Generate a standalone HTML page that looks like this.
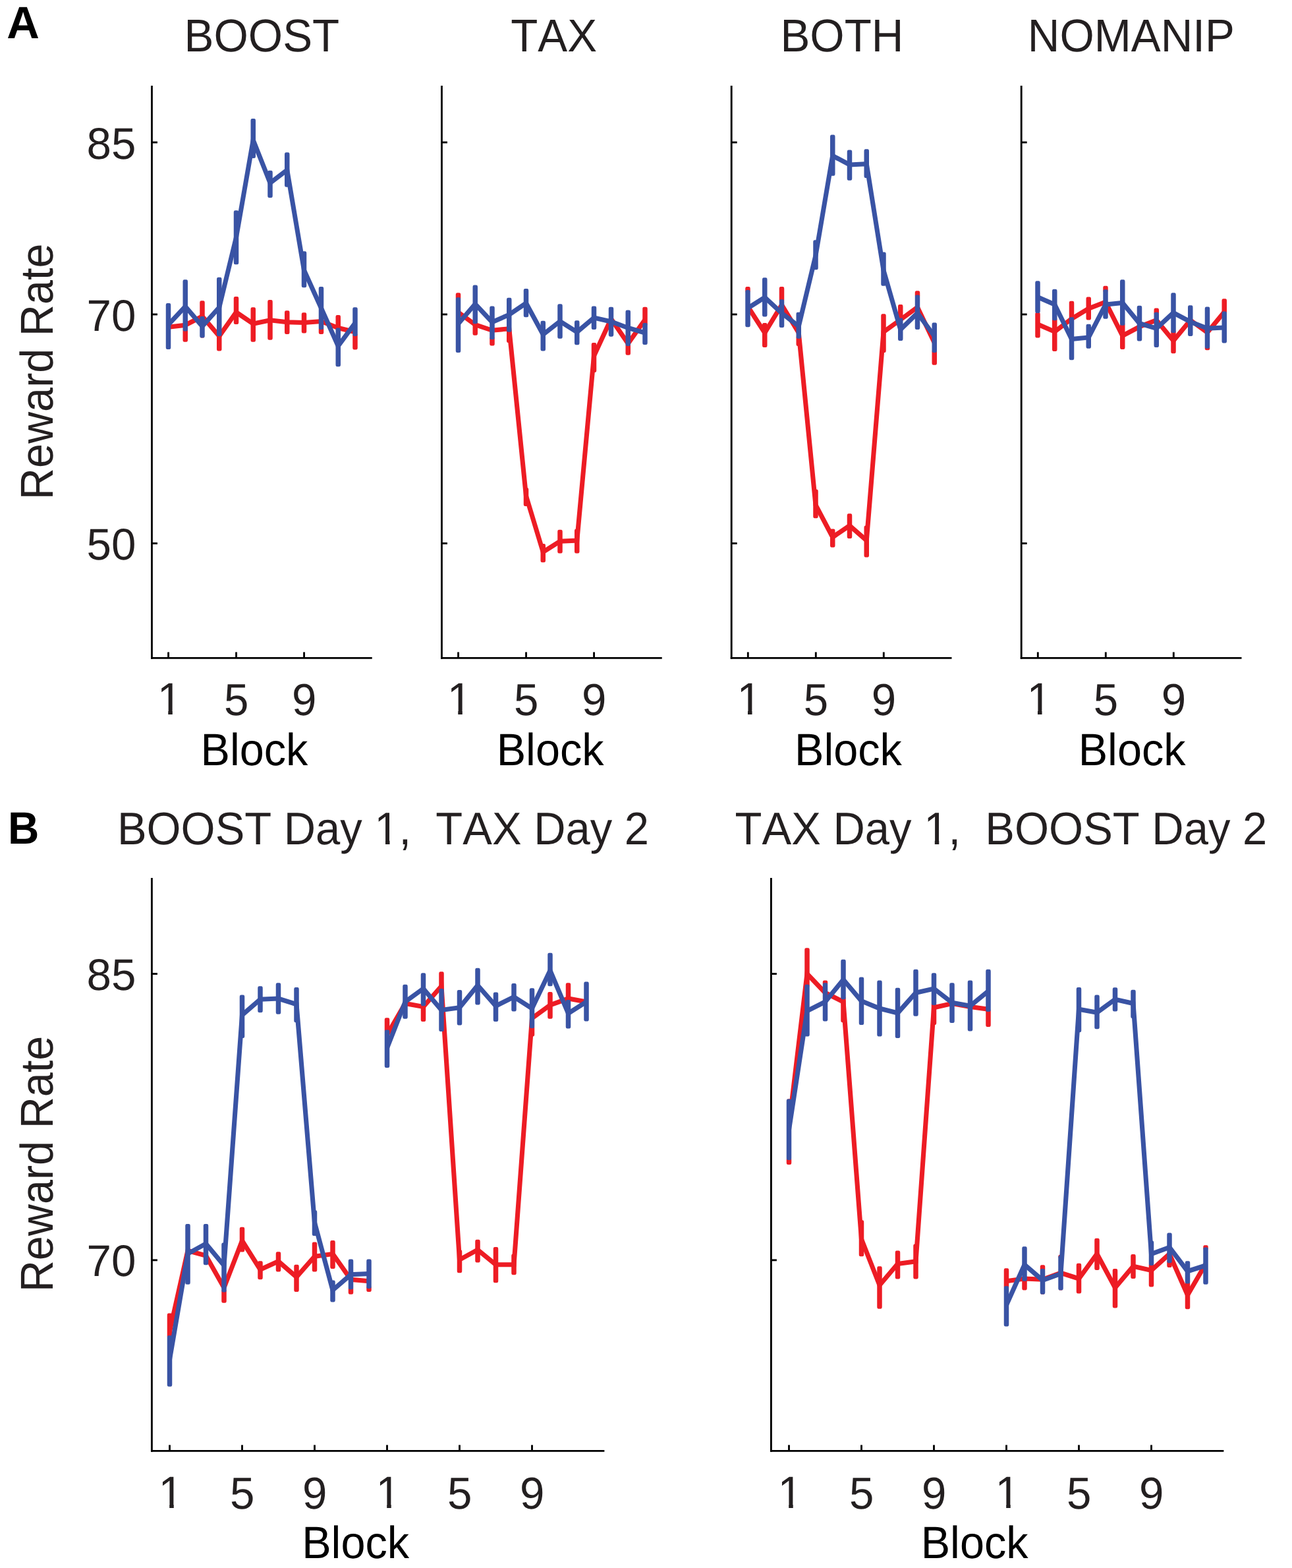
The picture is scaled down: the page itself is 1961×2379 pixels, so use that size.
<!DOCTYPE html>
<html lang="en">
<head>
<meta charset="utf-8">
<title>Reward Rate by Block</title>
<style>
html,body{margin:0;padding:0;background:#ffffff;}
body{width:1961px;height:2379px;overflow:hidden;}
svg{display:block;}
svg text{font-family:"Liberation Sans",sans-serif;font-kerning:none;white-space:pre;text-rendering:geometricPrecision;}
</style>
</head>
<body>
<svg width="1961" height="2379" viewBox="0 0 1961 2379">
<defs>
<clipPath id="c1" clipPathUnits="userSpaceOnUse"><path clip-rule="evenodd" d="M172.89 1200.75H1477.89V1320.75H172.89ZM572.50 1275.05H585.02V1282.75H572.50ZM591.51 1275.05H603.29V1282.75H591.51Z"/></clipPath>
<clipPath id="c2" clipPathUnits="userSpaceOnUse"><path clip-rule="evenodd" d="M1110.58 1200.75H2415.58V1320.75H1110.58ZM1406.26 1275.05H1418.79V1282.75H1406.26ZM1425.28 1275.05H1437.07V1282.75H1425.28Z"/></clipPath>
<clipPath id="c3" clipPathUnits="userSpaceOnUse"><path clip-rule="evenodd" d="M233.64 1014.00H288.64V1094.00H233.64ZM242.68 1078.37H255.26V1086.00H242.68ZM261.79 1078.37H273.64V1086.00H261.79Z"/></clipPath>
<clipPath id="c4" clipPathUnits="userSpaceOnUse"><path clip-rule="evenodd" d="M673.64 1014.00H728.64V1094.00H673.64ZM682.68 1078.37H695.26V1086.00H682.68ZM701.79 1078.37H713.64V1086.00H701.79Z"/></clipPath>
<clipPath id="c5" clipPathUnits="userSpaceOnUse"><path clip-rule="evenodd" d="M1113.39 1014.00H1168.39V1094.00H1113.39ZM1122.43 1078.37H1135.01V1086.00H1122.43ZM1141.54 1078.37H1153.39V1086.00H1141.54Z"/></clipPath>
<clipPath id="c6" clipPathUnits="userSpaceOnUse"><path clip-rule="evenodd" d="M1553.39 1014.00H1608.39V1094.00H1553.39ZM1562.43 1078.37H1575.01V1086.00H1562.43ZM1581.54 1078.37H1593.39V1086.00H1581.54Z"/></clipPath>
<clipPath id="c7" clipPathUnits="userSpaceOnUse"><path clip-rule="evenodd" d="M235.59 2218.00H290.59V2298.00H235.59ZM244.63 2282.37H257.21V2290.00H244.63ZM263.74 2282.37H275.59V2290.00H263.74Z"/></clipPath>
<clipPath id="c8" clipPathUnits="userSpaceOnUse"><path clip-rule="evenodd" d="M565.59 2218.00H620.59V2298.00H565.59ZM574.63 2282.37H587.21V2290.00H574.63ZM593.74 2282.37H605.59V2290.00H593.74Z"/></clipPath>
<clipPath id="c9" clipPathUnits="userSpaceOnUse"><path clip-rule="evenodd" d="M1175.59 2218.00H1230.59V2298.00H1175.59ZM1184.63 2282.37H1197.21V2290.00H1184.63ZM1203.74 2282.37H1215.59V2290.00H1203.74Z"/></clipPath>
<clipPath id="c10" clipPathUnits="userSpaceOnUse"><path clip-rule="evenodd" d="M1505.59 2218.00H1560.59V2298.00H1505.59ZM1514.63 2282.37H1527.21V2290.00H1514.63ZM1533.74 2282.37H1545.59V2290.00H1533.74Z"/></clipPath>
</defs>
<rect x="0" y="0" width="1961" height="2379" fill="#ffffff"/>
<line x1="230.45" y1="129.90" x2="230.45" y2="999.82" stroke="#000000" stroke-width="2.85" stroke-linecap="butt"/>
<line x1="229.02" y1="998.40" x2="564.75" y2="998.40" stroke="#000000" stroke-width="2.85" stroke-linecap="butt"/>
<line x1="230.45" y1="216.00" x2="238.95" y2="216.00" stroke="#000000" stroke-width="2.85" stroke-linecap="butt"/>
<line x1="230.45" y1="477.00" x2="238.95" y2="477.00" stroke="#000000" stroke-width="2.85" stroke-linecap="butt"/>
<line x1="230.45" y1="824.40" x2="238.95" y2="824.40" stroke="#000000" stroke-width="2.85" stroke-linecap="butt"/>
<line x1="255.55" y1="998.40" x2="255.55" y2="989.40" stroke="#000000" stroke-width="2.85" stroke-linecap="butt"/>
<line x1="358.55" y1="998.40" x2="358.55" y2="989.40" stroke="#000000" stroke-width="2.85" stroke-linecap="butt"/>
<line x1="461.55" y1="998.40" x2="461.55" y2="989.40" stroke="#000000" stroke-width="2.85" stroke-linecap="butt"/>
<line x1="670.45" y1="129.90" x2="670.45" y2="999.82" stroke="#000000" stroke-width="2.85" stroke-linecap="butt"/>
<line x1="669.03" y1="998.40" x2="1004.75" y2="998.40" stroke="#000000" stroke-width="2.85" stroke-linecap="butt"/>
<line x1="670.45" y1="216.00" x2="678.95" y2="216.00" stroke="#000000" stroke-width="2.85" stroke-linecap="butt"/>
<line x1="670.45" y1="477.00" x2="678.95" y2="477.00" stroke="#000000" stroke-width="2.85" stroke-linecap="butt"/>
<line x1="670.45" y1="824.40" x2="678.95" y2="824.40" stroke="#000000" stroke-width="2.85" stroke-linecap="butt"/>
<line x1="695.55" y1="998.40" x2="695.55" y2="989.40" stroke="#000000" stroke-width="2.85" stroke-linecap="butt"/>
<line x1="798.55" y1="998.40" x2="798.55" y2="989.40" stroke="#000000" stroke-width="2.85" stroke-linecap="butt"/>
<line x1="901.55" y1="998.40" x2="901.55" y2="989.40" stroke="#000000" stroke-width="2.85" stroke-linecap="butt"/>
<line x1="1110.20" y1="129.90" x2="1110.20" y2="999.82" stroke="#000000" stroke-width="2.85" stroke-linecap="butt"/>
<line x1="1108.78" y1="998.40" x2="1444.50" y2="998.40" stroke="#000000" stroke-width="2.85" stroke-linecap="butt"/>
<line x1="1110.20" y1="216.00" x2="1118.70" y2="216.00" stroke="#000000" stroke-width="2.85" stroke-linecap="butt"/>
<line x1="1110.20" y1="477.00" x2="1118.70" y2="477.00" stroke="#000000" stroke-width="2.85" stroke-linecap="butt"/>
<line x1="1110.20" y1="824.40" x2="1118.70" y2="824.40" stroke="#000000" stroke-width="2.85" stroke-linecap="butt"/>
<line x1="1135.30" y1="998.40" x2="1135.30" y2="989.40" stroke="#000000" stroke-width="2.85" stroke-linecap="butt"/>
<line x1="1238.30" y1="998.40" x2="1238.30" y2="989.40" stroke="#000000" stroke-width="2.85" stroke-linecap="butt"/>
<line x1="1341.30" y1="998.40" x2="1341.30" y2="989.40" stroke="#000000" stroke-width="2.85" stroke-linecap="butt"/>
<line x1="1550.20" y1="129.90" x2="1550.20" y2="999.82" stroke="#000000" stroke-width="2.85" stroke-linecap="butt"/>
<line x1="1548.78" y1="998.40" x2="1884.50" y2="998.40" stroke="#000000" stroke-width="2.85" stroke-linecap="butt"/>
<line x1="1550.20" y1="216.00" x2="1558.70" y2="216.00" stroke="#000000" stroke-width="2.85" stroke-linecap="butt"/>
<line x1="1550.20" y1="477.00" x2="1558.70" y2="477.00" stroke="#000000" stroke-width="2.85" stroke-linecap="butt"/>
<line x1="1550.20" y1="824.40" x2="1558.70" y2="824.40" stroke="#000000" stroke-width="2.85" stroke-linecap="butt"/>
<line x1="1575.30" y1="998.40" x2="1575.30" y2="989.40" stroke="#000000" stroke-width="2.85" stroke-linecap="butt"/>
<line x1="1678.30" y1="998.40" x2="1678.30" y2="989.40" stroke="#000000" stroke-width="2.85" stroke-linecap="butt"/>
<line x1="1781.30" y1="998.40" x2="1781.30" y2="989.40" stroke="#000000" stroke-width="2.85" stroke-linecap="butt"/>
<line x1="230.40" y1="1332.00" x2="230.40" y2="2202.78" stroke="#000000" stroke-width="2.85" stroke-linecap="butt"/>
<line x1="228.97" y1="2201.35" x2="917.40" y2="2201.35" stroke="#000000" stroke-width="2.85" stroke-linecap="butt"/>
<line x1="230.40" y1="1477.50" x2="238.90" y2="1477.50" stroke="#000000" stroke-width="2.85" stroke-linecap="butt"/>
<line x1="230.40" y1="1911.90" x2="238.90" y2="1911.90" stroke="#000000" stroke-width="2.85" stroke-linecap="butt"/>
<line x1="257.50" y1="2201.35" x2="257.50" y2="2192.35" stroke="#000000" stroke-width="2.85" stroke-linecap="butt"/>
<line x1="367.50" y1="2201.35" x2="367.50" y2="2192.35" stroke="#000000" stroke-width="2.85" stroke-linecap="butt"/>
<line x1="477.50" y1="2201.35" x2="477.50" y2="2192.35" stroke="#000000" stroke-width="2.85" stroke-linecap="butt"/>
<line x1="587.50" y1="2201.35" x2="587.50" y2="2192.35" stroke="#000000" stroke-width="2.85" stroke-linecap="butt"/>
<line x1="697.50" y1="2201.35" x2="697.50" y2="2192.35" stroke="#000000" stroke-width="2.85" stroke-linecap="butt"/>
<line x1="807.50" y1="2201.35" x2="807.50" y2="2192.35" stroke="#000000" stroke-width="2.85" stroke-linecap="butt"/>
<line x1="1170.40" y1="1332.00" x2="1170.40" y2="2202.78" stroke="#000000" stroke-width="2.85" stroke-linecap="butt"/>
<line x1="1168.98" y1="2201.35" x2="1857.40" y2="2201.35" stroke="#000000" stroke-width="2.85" stroke-linecap="butt"/>
<line x1="1170.40" y1="1477.50" x2="1178.90" y2="1477.50" stroke="#000000" stroke-width="2.85" stroke-linecap="butt"/>
<line x1="1170.40" y1="1911.90" x2="1178.90" y2="1911.90" stroke="#000000" stroke-width="2.85" stroke-linecap="butt"/>
<line x1="1197.50" y1="2201.35" x2="1197.50" y2="2192.35" stroke="#000000" stroke-width="2.85" stroke-linecap="butt"/>
<line x1="1307.50" y1="2201.35" x2="1307.50" y2="2192.35" stroke="#000000" stroke-width="2.85" stroke-linecap="butt"/>
<line x1="1417.50" y1="2201.35" x2="1417.50" y2="2192.35" stroke="#000000" stroke-width="2.85" stroke-linecap="butt"/>
<line x1="1527.50" y1="2201.35" x2="1527.50" y2="2192.35" stroke="#000000" stroke-width="2.85" stroke-linecap="butt"/>
<line x1="1637.50" y1="2201.35" x2="1637.50" y2="2192.35" stroke="#000000" stroke-width="2.85" stroke-linecap="butt"/>
<line x1="1747.50" y1="2201.35" x2="1747.50" y2="2192.35" stroke="#000000" stroke-width="2.85" stroke-linecap="butt"/>
<rect x="253.25" y="475.00" width="4.50" height="42.50" fill="#ED1C24"/>
<rect x="277.50" y="498.50" width="7.50" height="20.25" rx="2.2" ry="3.2" fill="#ED1C24"/>
<rect x="279.00" y="470.00" width="4.50" height="32.50" fill="#ED1C24"/>
<rect x="303.25" y="456.25" width="7.50" height="27.75" rx="2.2" ry="3.2" fill="#ED1C24"/>
<rect x="304.75" y="480.00" width="4.50" height="32.50" fill="#ED1C24"/>
<rect x="329.00" y="506.00" width="7.50" height="26.50" rx="2.2" ry="3.2" fill="#ED1C24"/>
<rect x="330.50" y="487.50" width="4.50" height="22.50" fill="#ED1C24"/>
<rect x="354.75" y="450.00" width="7.50" height="42.00" rx="2.2" ry="3.2" fill="#ED1C24"/>
<rect x="380.50" y="466.25" width="7.50" height="52.50" rx="2.2" ry="3.2" fill="#ED1C24"/>
<rect x="406.25" y="455.00" width="7.50" height="60.75" rx="2.2" ry="3.2" fill="#ED1C24"/>
<rect x="432.00" y="471.25" width="7.50" height="35.75" rx="2.2" ry="3.2" fill="#ED1C24"/>
<rect x="457.75" y="474.25" width="7.50" height="31.25" rx="2.2" ry="3.2" fill="#ED1C24"/>
<rect x="483.75" y="496.00" width="7.50" height="11.00" rx="2.2" ry="3.2" fill="#ED1C24"/>
<rect x="485.25" y="470.00" width="4.50" height="30.00" fill="#ED1C24"/>
<rect x="509.50" y="478.00" width="7.50" height="23.50" rx="2.2" ry="3.2" fill="#ED1C24"/>
<rect x="511.00" y="497.50" width="4.50" height="20.00" fill="#ED1C24"/>
<rect x="535.25" y="506.00" width="7.50" height="24.50" rx="2.2" ry="3.2" fill="#ED1C24"/>
<rect x="536.75" y="477.50" width="4.50" height="32.50" fill="#ED1C24"/>
<polyline points="255.50,496.25 281.25,493.25 307.00,480.00 332.75,510.00 358.50,473.75 384.25,491.25 410.00,485.75 435.75,488.75 461.50,489.50 487.50,487.50 513.25,497.50 539.00,503.75" fill="none" stroke="#ED1C24" stroke-width="7.1" stroke-linejoin="miter" stroke-miterlimit="10"/>
<rect x="251.75" y="460.00" width="7.50" height="70.00" rx="2.2" ry="3.2" fill="#3953A4"/>
<rect x="277.50" y="424.25" width="7.50" height="78.25" rx="2.2" ry="3.2" fill="#3953A4"/>
<rect x="303.25" y="480.00" width="7.50" height="32.50" rx="2.2" ry="3.2" fill="#3953A4"/>
<rect x="329.00" y="420.75" width="7.50" height="89.25" rx="2.2" ry="3.2" fill="#3953A4"/>
<rect x="354.75" y="319.25" width="7.50" height="82.00" rx="2.2" ry="3.2" fill="#3953A4"/>
<rect x="380.50" y="180.00" width="7.50" height="60.00" rx="2.2" ry="3.2" fill="#3953A4"/>
<rect x="406.25" y="258.75" width="7.50" height="41.25" rx="2.2" ry="3.2" fill="#3953A4"/>
<rect x="432.00" y="231.25" width="7.50" height="52.50" rx="2.2" ry="3.2" fill="#3953A4"/>
<rect x="457.75" y="381.25" width="7.50" height="55.00" rx="2.2" ry="3.2" fill="#3953A4"/>
<rect x="483.75" y="435.00" width="7.50" height="65.00" rx="2.2" ry="3.2" fill="#3953A4"/>
<rect x="509.50" y="497.50" width="7.50" height="58.75" rx="2.2" ry="3.2" fill="#3953A4"/>
<rect x="535.25" y="466.25" width="7.50" height="43.75" rx="2.2" ry="3.2" fill="#3953A4"/>
<polyline points="255.50,492.50 281.25,465.00 307.00,495.00 332.75,466.25 358.50,360.00 384.25,212.50 410.00,277.50 435.75,258.00 461.50,410.00 487.50,467.50 513.25,525.00 539.00,490.00" fill="none" stroke="#3953A4" stroke-width="7.1" stroke-linejoin="miter" stroke-miterlimit="10"/>
<rect x="691.75" y="444.25" width="7.50" height="11.00" rx="2.2" ry="3.2" fill="#ED1C24"/>
<rect x="693.25" y="451.25" width="4.50" height="51.25" fill="#ED1C24"/>
<rect x="717.50" y="487.25" width="7.50" height="21.50" rx="2.2" ry="3.2" fill="#ED1C24"/>
<rect x="719.00" y="476.25" width="4.50" height="15.00" fill="#ED1C24"/>
<rect x="743.25" y="511.00" width="7.50" height="13.50" rx="2.2" ry="3.2" fill="#ED1C24"/>
<rect x="744.75" y="478.75" width="4.50" height="36.25" fill="#ED1C24"/>
<rect x="769.00" y="499.75" width="7.50" height="20.25" rx="2.2" ry="3.2" fill="#ED1C24"/>
<rect x="770.50" y="477.50" width="4.50" height="26.25" fill="#ED1C24"/>
<rect x="794.75" y="740.00" width="7.50" height="28.00" rx="2.2" ry="3.2" fill="#ED1C24"/>
<rect x="820.50" y="825.00" width="7.50" height="28.25" rx="2.2" ry="3.2" fill="#ED1C24"/>
<rect x="846.25" y="803.75" width="7.50" height="35.75" rx="2.2" ry="3.2" fill="#ED1C24"/>
<rect x="872.00" y="802.50" width="7.50" height="37.00" rx="2.2" ry="3.2" fill="#ED1C24"/>
<rect x="897.75" y="520.00" width="7.50" height="45.00" rx="2.2" ry="3.2" fill="#ED1C24"/>
<rect x="925.25" y="466.25" width="4.50" height="36.25" fill="#ED1C24"/>
<rect x="949.50" y="521.00" width="7.50" height="17.75" rx="2.2" ry="3.2" fill="#ED1C24"/>
<rect x="951.00" y="503.75" width="4.50" height="21.25" fill="#ED1C24"/>
<rect x="975.25" y="465.75" width="7.50" height="28.25" rx="2.2" ry="3.2" fill="#ED1C24"/>
<rect x="976.75" y="490.00" width="4.50" height="15.00" fill="#ED1C24"/>
<polyline points="695.50,473.75 721.25,492.50 747.00,501.25 772.75,498.75 798.50,752.50 824.25,837.50 850.00,821.25 875.75,820.00 901.50,540.00 927.50,483.75 953.25,521.25 979.00,485.00" fill="none" stroke="#ED1C24" stroke-width="7.1" stroke-linejoin="miter" stroke-miterlimit="10"/>
<rect x="691.75" y="451.25" width="7.50" height="83.75" rx="2.2" ry="3.2" fill="#3953A4"/>
<rect x="717.50" y="432.50" width="7.50" height="58.75" rx="2.2" ry="3.2" fill="#3953A4"/>
<rect x="743.25" y="464.50" width="7.50" height="50.50" rx="2.2" ry="3.2" fill="#3953A4"/>
<rect x="769.00" y="451.75" width="7.50" height="52.00" rx="2.2" ry="3.2" fill="#3953A4"/>
<rect x="794.75" y="438.00" width="7.50" height="43.25" rx="2.2" ry="3.2" fill="#3953A4"/>
<rect x="820.50" y="486.75" width="7.50" height="45.75" rx="2.2" ry="3.2" fill="#3953A4"/>
<rect x="846.25" y="461.25" width="7.50" height="52.50" rx="2.2" ry="3.2" fill="#3953A4"/>
<rect x="872.00" y="486.25" width="7.50" height="37.00" rx="2.2" ry="3.2" fill="#3953A4"/>
<rect x="897.75" y="464.50" width="7.50" height="35.50" rx="2.2" ry="3.2" fill="#3953A4"/>
<rect x="923.75" y="465.75" width="7.50" height="45.00" rx="2.2" ry="3.2" fill="#3953A4"/>
<rect x="949.50" y="470.50" width="7.50" height="54.50" rx="2.2" ry="3.2" fill="#3953A4"/>
<rect x="975.25" y="490.00" width="7.50" height="33.00" rx="2.2" ry="3.2" fill="#3953A4"/>
<polyline points="695.50,491.25 721.25,461.25 747.00,488.75 772.75,477.50 798.50,460.00 824.25,507.50 850.00,487.50 875.75,503.75 901.50,482.00 927.50,488.00 953.25,497.50 979.00,505.00" fill="none" stroke="#3953A4" stroke-width="7.1" stroke-linejoin="miter" stroke-miterlimit="10"/>
<rect x="1131.25" y="435.00" width="7.50" height="9.00" rx="2.2" ry="3.2" fill="#ED1C24"/>
<rect x="1132.75" y="440.00" width="4.50" height="55.00" fill="#ED1C24"/>
<rect x="1157.00" y="490.00" width="7.50" height="37.00" rx="2.2" ry="3.2" fill="#ED1C24"/>
<rect x="1182.75" y="435.00" width="7.50" height="23.25" rx="2.2" ry="3.2" fill="#ED1C24"/>
<rect x="1184.25" y="454.25" width="4.50" height="35.75" fill="#ED1C24"/>
<rect x="1208.50" y="509.75" width="7.50" height="15.25" rx="2.2" ry="3.2" fill="#ED1C24"/>
<rect x="1210.00" y="485.00" width="4.50" height="28.75" fill="#ED1C24"/>
<rect x="1234.25" y="742.50" width="7.50" height="43.75" rx="2.2" ry="3.2" fill="#ED1C24"/>
<rect x="1260.00" y="802.50" width="7.50" height="28.00" rx="2.2" ry="3.2" fill="#ED1C24"/>
<rect x="1285.75" y="779.25" width="7.50" height="37.75" rx="2.2" ry="3.2" fill="#ED1C24"/>
<rect x="1311.50" y="797.50" width="7.50" height="48.00" rx="2.2" ry="3.2" fill="#ED1C24"/>
<rect x="1337.25" y="476.25" width="7.50" height="58.75" rx="2.2" ry="3.2" fill="#ED1C24"/>
<rect x="1363.00" y="462.00" width="7.50" height="24.50" rx="2.2" ry="3.2" fill="#ED1C24"/>
<rect x="1364.50" y="482.50" width="4.50" height="25.00" fill="#ED1C24"/>
<rect x="1388.75" y="441.25" width="7.50" height="10.25" rx="2.2" ry="3.2" fill="#ED1C24"/>
<rect x="1390.25" y="447.50" width="4.50" height="43.75" fill="#ED1C24"/>
<rect x="1414.50" y="531.00" width="7.50" height="22.75" rx="2.2" ry="3.2" fill="#ED1C24"/>
<rect x="1416.00" y="493.75" width="4.50" height="41.25" fill="#ED1C24"/>
<polyline points="1135.00,465.00 1160.75,505.00 1186.50,462.50 1212.25,505.00 1238.00,766.25 1263.75,815.00 1289.50,797.50 1315.25,820.00 1341.00,503.75 1366.75,485.00 1392.50,466.25 1418.25,520.00" fill="none" stroke="#ED1C24" stroke-width="7.1" stroke-linejoin="miter" stroke-miterlimit="10"/>
<rect x="1131.25" y="440.00" width="7.50" height="56.25" rx="2.2" ry="3.2" fill="#3953A4"/>
<rect x="1157.00" y="421.25" width="7.50" height="59.25" rx="2.2" ry="3.2" fill="#3953A4"/>
<rect x="1182.75" y="454.25" width="7.50" height="42.75" rx="2.2" ry="3.2" fill="#3953A4"/>
<rect x="1208.50" y="473.75" width="7.50" height="40.00" rx="2.2" ry="3.2" fill="#3953A4"/>
<rect x="1234.25" y="364.25" width="7.50" height="45.00" rx="2.2" ry="3.2" fill="#3953A4"/>
<rect x="1260.00" y="204.50" width="7.50" height="62.25" rx="2.2" ry="3.2" fill="#3953A4"/>
<rect x="1285.75" y="227.50" width="7.50" height="46.25" rx="2.2" ry="3.2" fill="#3953A4"/>
<rect x="1311.50" y="226.25" width="7.50" height="43.75" rx="2.2" ry="3.2" fill="#3953A4"/>
<rect x="1337.25" y="382.50" width="7.50" height="51.25" rx="2.2" ry="3.2" fill="#3953A4"/>
<rect x="1363.00" y="482.50" width="7.50" height="34.50" rx="2.2" ry="3.2" fill="#3953A4"/>
<rect x="1388.75" y="447.50" width="7.50" height="52.50" rx="2.2" ry="3.2" fill="#3953A4"/>
<rect x="1414.50" y="489.50" width="7.50" height="45.50" rx="2.2" ry="3.2" fill="#3953A4"/>
<polyline points="1135.00,467.50 1160.75,451.25 1186.50,475.00 1212.25,495.00 1238.00,387.50 1263.75,236.25 1289.50,250.00 1315.25,248.75 1341.00,410.00 1366.75,500.00 1392.50,475.00 1418.25,510.00" fill="none" stroke="#3953A4" stroke-width="7.1" stroke-linejoin="miter" stroke-miterlimit="10"/>
<rect x="1571.25" y="473.75" width="7.50" height="38.75" rx="2.2" ry="3.2" fill="#ED1C24"/>
<rect x="1597.00" y="482.25" width="7.50" height="50.75" rx="2.2" ry="3.2" fill="#ED1C24"/>
<rect x="1598.50" y="472.50" width="4.50" height="13.75" fill="#ED1C24"/>
<rect x="1622.75" y="456.75" width="7.50" height="28.50" rx="2.2" ry="3.2" fill="#ED1C24"/>
<rect x="1624.25" y="481.25" width="4.50" height="27.50" fill="#ED1C24"/>
<rect x="1648.50" y="450.50" width="7.50" height="35.00" rx="2.2" ry="3.2" fill="#ED1C24"/>
<rect x="1674.25" y="433.75" width="7.50" height="9.50" rx="2.2" ry="3.2" fill="#ED1C24"/>
<rect x="1675.75" y="439.25" width="4.50" height="42.00" fill="#ED1C24"/>
<rect x="1700.00" y="489.75" width="7.50" height="40.25" rx="2.2" ry="3.2" fill="#ED1C24"/>
<rect x="1701.50" y="487.50" width="4.50" height="6.25" fill="#ED1C24"/>
<rect x="1727.25" y="475.00" width="4.50" height="40.00" fill="#ED1C24"/>
<rect x="1751.50" y="467.50" width="7.50" height="10.25" rx="2.2" ry="3.2" fill="#ED1C24"/>
<rect x="1753.00" y="473.75" width="4.50" height="28.75" fill="#ED1C24"/>
<rect x="1777.25" y="501.00" width="7.50" height="35.25" rx="2.2" ry="3.2" fill="#ED1C24"/>
<rect x="1778.75" y="496.25" width="4.50" height="8.75" fill="#ED1C24"/>
<rect x="1804.50" y="467.50" width="4.50" height="35.00" fill="#ED1C24"/>
<rect x="1828.75" y="524.75" width="7.50" height="6.50" rx="2.2" ry="3.2" fill="#ED1C24"/>
<rect x="1830.25" y="476.25" width="4.50" height="52.50" fill="#ED1C24"/>
<rect x="1854.50" y="453.25" width="7.50" height="23.25" rx="2.2" ry="3.2" fill="#ED1C24"/>
<rect x="1856.00" y="472.50" width="4.50" height="19.25" fill="#ED1C24"/>
<polyline points="1575.00,492.00 1600.75,503.25 1626.50,483.75 1652.25,468.25 1678.00,458.25 1703.75,509.50 1729.50,495.75 1755.25,485.75 1781.00,517.00 1806.75,485.75 1832.50,504.50 1858.25,473.25" fill="none" stroke="#ED1C24" stroke-width="7.1" stroke-linejoin="miter" stroke-miterlimit="10"/>
<rect x="1571.25" y="426.25" width="7.50" height="48.75" rx="2.2" ry="3.2" fill="#3953A4"/>
<rect x="1597.00" y="438.75" width="7.50" height="47.50" rx="2.2" ry="3.2" fill="#3953A4"/>
<rect x="1622.75" y="481.25" width="7.50" height="65.00" rx="2.2" ry="3.2" fill="#3953A4"/>
<rect x="1648.50" y="491.75" width="7.50" height="37.00" rx="2.2" ry="3.2" fill="#3953A4"/>
<rect x="1674.25" y="439.25" width="7.50" height="44.50" rx="2.2" ry="3.2" fill="#3953A4"/>
<rect x="1700.00" y="424.25" width="7.50" height="69.50" rx="2.2" ry="3.2" fill="#3953A4"/>
<rect x="1725.75" y="463.75" width="7.50" height="53.75" rx="2.2" ry="3.2" fill="#3953A4"/>
<rect x="1751.50" y="473.75" width="7.50" height="53.25" rx="2.2" ry="3.2" fill="#3953A4"/>
<rect x="1777.25" y="444.25" width="7.50" height="60.75" rx="2.2" ry="3.2" fill="#3953A4"/>
<rect x="1803.00" y="463.25" width="7.50" height="46.75" rx="2.2" ry="3.2" fill="#3953A4"/>
<rect x="1828.75" y="465.50" width="7.50" height="63.25" rx="2.2" ry="3.2" fill="#3953A4"/>
<rect x="1854.50" y="472.50" width="7.50" height="48.00" rx="2.2" ry="3.2" fill="#3953A4"/>
<polyline points="1575.00,450.75 1600.75,462.00 1626.50,514.50 1652.25,512.00 1678.00,462.00 1703.75,459.50 1729.50,490.75 1755.25,498.25 1781.00,474.50 1806.75,488.25 1832.50,498.25 1858.25,497.00" fill="none" stroke="#3953A4" stroke-width="7.1" stroke-linejoin="miter" stroke-miterlimit="10"/>
<rect x="253.75" y="1992.50" width="7.50" height="37.75" rx="2.2" ry="3.2" fill="#ED1C24"/>
<rect x="255.25" y="2026.25" width="4.50" height="21.25" fill="#ED1C24"/>
<rect x="282.75" y="1885.00" width="4.50" height="32.50" fill="#ED1C24"/>
<rect x="310.25" y="1885.00" width="4.50" height="32.50" fill="#ED1C24"/>
<rect x="336.25" y="1956.50" width="7.50" height="20.25" rx="2.2" ry="3.2" fill="#ED1C24"/>
<rect x="337.75" y="1931.25" width="4.50" height="29.25" fill="#ED1C24"/>
<rect x="363.75" y="1861.75" width="7.50" height="37.75" rx="2.2" ry="3.2" fill="#ED1C24"/>
<rect x="391.25" y="1913.25" width="7.50" height="28.00" rx="2.2" ry="3.2" fill="#ED1C24"/>
<rect x="418.75" y="1899.25" width="7.50" height="30.25" rx="2.2" ry="3.2" fill="#ED1C24"/>
<rect x="446.25" y="1918.75" width="7.50" height="41.25" rx="2.2" ry="3.2" fill="#ED1C24"/>
<rect x="473.75" y="1884.50" width="7.50" height="45.00" rx="2.2" ry="3.2" fill="#ED1C24"/>
<rect x="501.25" y="1882.00" width="7.50" height="43.00" rx="2.2" ry="3.2" fill="#ED1C24"/>
<rect x="528.75" y="1952.25" width="7.50" height="11.50" rx="2.2" ry="3.2" fill="#ED1C24"/>
<rect x="530.25" y="1918.75" width="4.50" height="37.50" fill="#ED1C24"/>
<rect x="556.25" y="1951.00" width="7.50" height="9.00" rx="2.2" ry="3.2" fill="#ED1C24"/>
<rect x="557.75" y="1927.50" width="4.50" height="27.50" fill="#ED1C24"/>
<polyline points="257.50,2020.00 285.00,1897.50 312.50,1905.00 340.00,1953.75 367.50,1882.50 395.00,1926.25 422.50,1913.75 450.00,1937.50 477.50,1906.25 505.00,1902.50 532.50,1941.25 560.00,1943.75" fill="none" stroke="#ED1C24" stroke-width="7.1" stroke-linejoin="miter" stroke-miterlimit="10"/>
<rect x="253.75" y="2026.25" width="7.50" height="77.50" rx="2.2" ry="3.2" fill="#3953A4"/>
<rect x="281.25" y="1857.00" width="7.50" height="91.75" rx="2.2" ry="3.2" fill="#3953A4"/>
<rect x="308.75" y="1857.00" width="7.50" height="62.25" rx="2.2" ry="3.2" fill="#3953A4"/>
<rect x="336.25" y="1885.50" width="7.50" height="75.00" rx="2.2" ry="3.2" fill="#3953A4"/>
<rect x="363.75" y="1509.50" width="7.50" height="65.50" rx="2.2" ry="3.2" fill="#3953A4"/>
<rect x="391.25" y="1496.25" width="7.50" height="40.00" rx="2.2" ry="3.2" fill="#3953A4"/>
<rect x="418.75" y="1491.25" width="7.50" height="47.50" rx="2.2" ry="3.2" fill="#3953A4"/>
<rect x="446.25" y="1498.00" width="7.50" height="53.25" rx="2.2" ry="3.2" fill="#3953A4"/>
<rect x="473.75" y="1836.25" width="7.50" height="38.75" rx="2.2" ry="3.2" fill="#3953A4"/>
<rect x="501.25" y="1942.50" width="7.50" height="33.00" rx="2.2" ry="3.2" fill="#3953A4"/>
<rect x="528.75" y="1910.50" width="7.50" height="45.75" rx="2.2" ry="3.2" fill="#3953A4"/>
<rect x="556.25" y="1910.50" width="7.50" height="44.50" rx="2.2" ry="3.2" fill="#3953A4"/>
<polyline points="257.50,2062.50 285.00,1902.25 312.50,1887.00 340.00,1920.00 367.50,1540.00 395.00,1516.25 422.50,1515.00 450.00,1523.75 477.50,1855.00 505.00,1957.50 532.50,1933.75 560.00,1932.50" fill="none" stroke="#3953A4" stroke-width="7.1" stroke-linejoin="miter" stroke-miterlimit="10"/>
<rect x="583.75" y="1544.25" width="7.50" height="22.25" rx="2.2" ry="3.2" fill="#ED1C24"/>
<rect x="585.25" y="1562.50" width="4.50" height="32.50" fill="#ED1C24"/>
<rect x="612.75" y="1502.50" width="4.50" height="40.00" fill="#ED1C24"/>
<rect x="638.75" y="1522.25" width="7.50" height="27.75" rx="2.2" ry="3.2" fill="#ED1C24"/>
<rect x="640.25" y="1505.00" width="4.50" height="21.25" fill="#ED1C24"/>
<rect x="666.25" y="1474.25" width="7.50" height="29.75" rx="2.2" ry="3.2" fill="#ED1C24"/>
<rect x="667.75" y="1500.00" width="4.50" height="18.75" fill="#ED1C24"/>
<rect x="693.75" y="1896.25" width="7.50" height="35.00" rx="2.2" ry="3.2" fill="#ED1C24"/>
<rect x="721.25" y="1880.75" width="7.50" height="34.75" rx="2.2" ry="3.2" fill="#ED1C24"/>
<rect x="748.75" y="1892.00" width="7.50" height="54.25" rx="2.2" ry="3.2" fill="#ED1C24"/>
<rect x="776.25" y="1902.50" width="7.50" height="31.75" rx="2.2" ry="3.2" fill="#ED1C24"/>
<rect x="803.75" y="1556.00" width="7.50" height="16.50" rx="2.2" ry="3.2" fill="#ED1C24"/>
<rect x="805.25" y="1517.50" width="4.50" height="42.50" fill="#ED1C24"/>
<rect x="831.25" y="1505.00" width="7.50" height="40.75" rx="2.2" ry="3.2" fill="#ED1C24"/>
<rect x="858.75" y="1491.25" width="7.50" height="29.75" rx="2.2" ry="3.2" fill="#ED1C24"/>
<rect x="860.25" y="1517.00" width="4.50" height="21.75" fill="#ED1C24"/>
<rect x="887.75" y="1497.50" width="4.50" height="45.00" fill="#ED1C24"/>
<polyline points="587.50,1570.00 615.00,1522.50 642.50,1527.50 670.00,1496.25 697.50,1911.25 725.00,1896.25 752.50,1918.75 780.00,1918.75 807.50,1545.00 835.00,1525.00 862.50,1515.00 890.00,1520.00" fill="none" stroke="#ED1C24" stroke-width="7.1" stroke-linejoin="miter" stroke-miterlimit="10"/>
<rect x="583.75" y="1562.50" width="7.50" height="57.50" rx="2.2" ry="3.2" fill="#3953A4"/>
<rect x="611.25" y="1493.75" width="7.50" height="52.00" rx="2.2" ry="3.2" fill="#3953A4"/>
<rect x="638.75" y="1476.25" width="7.50" height="50.00" rx="2.2" ry="3.2" fill="#3953A4"/>
<rect x="666.25" y="1500.00" width="7.50" height="65.00" rx="2.2" ry="3.2" fill="#3953A4"/>
<rect x="693.75" y="1502.00" width="7.50" height="53.50" rx="2.2" ry="3.2" fill="#3953A4"/>
<rect x="721.25" y="1468.75" width="7.50" height="55.75" rx="2.2" ry="3.2" fill="#3953A4"/>
<rect x="748.75" y="1505.50" width="7.50" height="44.50" rx="2.2" ry="3.2" fill="#3953A4"/>
<rect x="776.25" y="1492.00" width="7.50" height="42.50" rx="2.2" ry="3.2" fill="#3953A4"/>
<rect x="803.75" y="1499.25" width="7.50" height="60.75" rx="2.2" ry="3.2" fill="#3953A4"/>
<rect x="831.25" y="1445.75" width="7.50" height="50.50" rx="2.2" ry="3.2" fill="#3953A4"/>
<rect x="858.75" y="1517.00" width="7.50" height="43.50" rx="2.2" ry="3.2" fill="#3953A4"/>
<rect x="886.25" y="1489.50" width="7.50" height="60.00" rx="2.2" ry="3.2" fill="#3953A4"/>
<polyline points="587.50,1590.00 615.00,1520.00 642.50,1500.00 670.00,1532.50 697.50,1528.75 725.00,1495.00 752.50,1526.25 780.00,1512.50 807.50,1530.00 835.00,1472.50 862.50,1537.50 890.00,1520.00" fill="none" stroke="#3953A4" stroke-width="7.1" stroke-linejoin="miter" stroke-miterlimit="10"/>
<rect x="1193.75" y="1756.00" width="7.50" height="11.00" rx="2.2" ry="3.2" fill="#ED1C24"/>
<rect x="1195.25" y="1667.50" width="4.50" height="92.50" fill="#ED1C24"/>
<rect x="1221.25" y="1438.25" width="7.50" height="59.50" rx="2.2" ry="3.2" fill="#ED1C24"/>
<rect x="1222.75" y="1493.75" width="4.50" height="23.75" fill="#ED1C24"/>
<rect x="1248.75" y="1487.50" width="7.50" height="7.75" rx="2.2" ry="3.2" fill="#ED1C24"/>
<rect x="1250.25" y="1491.25" width="4.50" height="33.75" fill="#ED1C24"/>
<rect x="1276.25" y="1512.25" width="7.50" height="39.00" rx="2.2" ry="3.2" fill="#ED1C24"/>
<rect x="1277.75" y="1490.00" width="4.50" height="26.25" fill="#ED1C24"/>
<rect x="1303.75" y="1851.25" width="7.50" height="55.00" rx="2.2" ry="3.2" fill="#ED1C24"/>
<rect x="1331.25" y="1921.25" width="7.50" height="64.50" rx="2.2" ry="3.2" fill="#ED1C24"/>
<rect x="1358.75" y="1897.50" width="7.50" height="43.00" rx="2.2" ry="3.2" fill="#ED1C24"/>
<rect x="1386.25" y="1887.50" width="7.50" height="53.00" rx="2.2" ry="3.2" fill="#ED1C24"/>
<rect x="1413.75" y="1521.00" width="7.50" height="34.00" rx="2.2" ry="3.2" fill="#ED1C24"/>
<rect x="1415.25" y="1502.50" width="4.50" height="22.50" fill="#ED1C24"/>
<rect x="1442.75" y="1502.50" width="4.50" height="40.00" fill="#ED1C24"/>
<rect x="1470.25" y="1507.50" width="4.50" height="40.00" fill="#ED1C24"/>
<rect x="1496.25" y="1531.00" width="7.50" height="27.00" rx="2.2" ry="3.2" fill="#ED1C24"/>
<rect x="1497.75" y="1505.00" width="4.50" height="30.00" fill="#ED1C24"/>
<polyline points="1197.50,1707.50 1225.00,1477.50 1252.50,1506.25 1280.00,1520.00 1307.50,1880.00 1335.00,1950.00 1362.50,1917.50 1390.00,1913.75 1417.50,1528.75 1445.00,1522.50 1472.50,1527.50 1500.00,1531.25" fill="none" stroke="#ED1C24" stroke-width="7.1" stroke-linejoin="miter" stroke-miterlimit="10"/>
<rect x="1193.75" y="1667.50" width="7.50" height="92.50" rx="2.2" ry="3.2" fill="#3953A4"/>
<rect x="1221.25" y="1493.75" width="7.50" height="78.75" rx="2.2" ry="3.2" fill="#3953A4"/>
<rect x="1248.75" y="1491.25" width="7.50" height="58.25" rx="2.2" ry="3.2" fill="#3953A4"/>
<rect x="1276.25" y="1455.75" width="7.50" height="60.50" rx="2.2" ry="3.2" fill="#3953A4"/>
<rect x="1303.75" y="1482.50" width="7.50" height="72.50" rx="2.2" ry="3.2" fill="#3953A4"/>
<rect x="1331.25" y="1487.50" width="7.50" height="85.00" rx="2.2" ry="3.2" fill="#3953A4"/>
<rect x="1358.75" y="1498.75" width="7.50" height="76.25" rx="2.2" ry="3.2" fill="#3953A4"/>
<rect x="1386.25" y="1470.75" width="7.50" height="71.00" rx="2.2" ry="3.2" fill="#3953A4"/>
<rect x="1413.75" y="1476.25" width="7.50" height="48.75" rx="2.2" ry="3.2" fill="#3953A4"/>
<rect x="1441.25" y="1491.25" width="7.50" height="60.75" rx="2.2" ry="3.2" fill="#3953A4"/>
<rect x="1468.75" y="1487.50" width="7.50" height="77.00" rx="2.2" ry="3.2" fill="#3953A4"/>
<rect x="1496.25" y="1470.75" width="7.50" height="64.25" rx="2.2" ry="3.2" fill="#3953A4"/>
<polyline points="1197.50,1713.75 1225.00,1533.75 1252.50,1520.00 1280.00,1486.25 1307.50,1518.75 1335.00,1530.00 1362.50,1537.00 1390.00,1506.25 1417.50,1500.00 1445.00,1521.25 1472.50,1526.25 1500.00,1503.75" fill="none" stroke="#3953A4" stroke-width="7.1" stroke-linejoin="miter" stroke-miterlimit="10"/>
<rect x="1523.75" y="1924.25" width="7.50" height="31.00" rx="2.2" ry="3.2" fill="#ED1C24"/>
<rect x="1525.25" y="1951.25" width="4.50" height="12.50" fill="#ED1C24"/>
<rect x="1551.25" y="1939.75" width="7.50" height="17.75" rx="2.2" ry="3.2" fill="#ED1C24"/>
<rect x="1552.75" y="1922.50" width="4.50" height="21.25" fill="#ED1C24"/>
<rect x="1578.75" y="1919.25" width="7.50" height="9.75" rx="2.2" ry="3.2" fill="#ED1C24"/>
<rect x="1580.25" y="1925.00" width="4.50" height="38.75" fill="#ED1C24"/>
<rect x="1606.25" y="1903.75" width="7.50" height="5.25" rx="2.2" ry="3.2" fill="#ED1C24"/>
<rect x="1607.75" y="1905.00" width="4.50" height="52.50" fill="#ED1C24"/>
<rect x="1633.75" y="1916.75" width="7.50" height="45.75" rx="2.2" ry="3.2" fill="#ED1C24"/>
<rect x="1661.25" y="1878.75" width="7.50" height="48.25" rx="2.2" ry="3.2" fill="#ED1C24"/>
<rect x="1688.75" y="1925.00" width="7.50" height="59.50" rx="2.2" ry="3.2" fill="#ED1C24"/>
<rect x="1716.25" y="1903.00" width="7.50" height="37.00" rx="2.2" ry="3.2" fill="#ED1C24"/>
<rect x="1743.75" y="1916.00" width="7.50" height="36.50" rx="2.2" ry="3.2" fill="#ED1C24"/>
<rect x="1745.25" y="1902.50" width="4.50" height="17.50" fill="#ED1C24"/>
<rect x="1771.25" y="1912.25" width="7.50" height="10.75" rx="2.2" ry="3.2" fill="#ED1C24"/>
<rect x="1772.75" y="1882.50" width="4.50" height="33.75" fill="#ED1C24"/>
<rect x="1798.75" y="1943.75" width="7.50" height="42.50" rx="2.2" ry="3.2" fill="#ED1C24"/>
<rect x="1826.25" y="1889.25" width="7.50" height="7.25" rx="2.2" ry="3.2" fill="#ED1C24"/>
<rect x="1827.75" y="1892.50" width="4.50" height="53.75" fill="#ED1C24"/>
<polyline points="1527.50,1943.75 1555.00,1940.00 1582.50,1941.25 1610.00,1931.25 1637.50,1940.00 1665.00,1902.50 1692.50,1953.75 1720.00,1921.25 1747.50,1927.50 1775.00,1902.50 1802.50,1965.00 1830.00,1917.50" fill="none" stroke="#ED1C24" stroke-width="7.1" stroke-linejoin="miter" stroke-miterlimit="10"/>
<rect x="1523.75" y="1951.25" width="7.50" height="61.25" rx="2.2" ry="3.2" fill="#3953A4"/>
<rect x="1551.25" y="1891.25" width="7.50" height="52.50" rx="2.2" ry="3.2" fill="#3953A4"/>
<rect x="1578.75" y="1925.00" width="7.50" height="38.75" rx="2.2" ry="3.2" fill="#3953A4"/>
<rect x="1606.25" y="1905.00" width="7.50" height="52.50" rx="2.2" ry="3.2" fill="#3953A4"/>
<rect x="1633.75" y="1498.00" width="7.50" height="68.25" rx="2.2" ry="3.2" fill="#3953A4"/>
<rect x="1661.25" y="1509.50" width="7.50" height="51.75" rx="2.2" ry="3.2" fill="#3953A4"/>
<rect x="1688.75" y="1498.25" width="7.50" height="36.25" rx="2.2" ry="3.2" fill="#3953A4"/>
<rect x="1716.25" y="1501.75" width="7.50" height="43.25" rx="2.2" ry="3.2" fill="#3953A4"/>
<rect x="1743.75" y="1882.50" width="7.50" height="37.50" rx="2.2" ry="3.2" fill="#3953A4"/>
<rect x="1771.25" y="1870.50" width="7.50" height="45.75" rx="2.2" ry="3.2" fill="#3953A4"/>
<rect x="1798.75" y="1913.25" width="7.50" height="34.25" rx="2.2" ry="3.2" fill="#3953A4"/>
<rect x="1826.25" y="1892.50" width="7.50" height="56.25" rx="2.2" ry="3.2" fill="#3953A4"/>
<polyline points="1527.50,1980.00 1555.00,1918.75 1582.50,1942.50 1610.00,1932.50 1637.50,1531.25 1665.00,1536.25 1692.50,1516.25 1720.00,1522.50 1747.50,1902.50 1775.00,1892.50 1802.50,1928.75 1830.00,1920.00" fill="none" stroke="#3953A4" stroke-width="7.1" stroke-linejoin="miter" stroke-miterlimit="10"/>
<text transform="translate(10.28 57.50) scale(1.0000 1.0000)" font-size="68.70" font-weight="bold" fill="#000000">A</text>
<text transform="translate(11.99 1280.00) scale(0.9540 1.0000)" font-size="68.70" font-weight="bold" fill="#000000">B</text>
<text transform="translate(279.62 77.75) scale(1.0000 1.0360)" font-size="67.30" font-weight="normal" fill="#231F20">BOOST</text>
<text transform="translate(775.22 77.75) scale(1.0000 1.0360)" font-size="67.30" font-weight="normal" fill="#231F20">TAX</text>
<text transform="translate(1184.42 77.75) scale(1.0000 1.0360)" font-size="67.30" font-weight="normal" fill="#231F20">BOTH</text>
<text transform="translate(1559.82 77.75) scale(1.0000 1.0360)" font-size="67.30" font-weight="normal" fill="#231F20">NOMANIP</text>
<g clip-path="url(#c1)"><text transform="translate(177.89 1280.75) scale(0.9982 1.0360)" font-size="67.06" font-weight="normal" fill="#231F20">BOOST Day 1,  TAX Day 2</text></g>
<g clip-path="url(#c2)"><text transform="translate(1115.58 1280.75) scale(0.9990 1.0360)" font-size="67.06" font-weight="normal" fill="#231F20">TAX Day 1,  BOOST Day 2</text></g>
<text transform="translate(131.60 241.00) scale(1.0000 1.0000)" font-size="67.30" font-weight="normal" fill="#231F20">85</text>
<text transform="translate(131.60 502.00) scale(1.0000 1.0000)" font-size="67.30" font-weight="normal" fill="#231F20">70</text>
<text transform="translate(131.60 849.00) scale(1.0000 1.0000)" font-size="67.30" font-weight="normal" fill="#231F20">50</text>
<text transform="translate(131.60 1502.00) scale(1.0000 1.0000)" font-size="67.30" font-weight="normal" fill="#231F20">85</text>
<text transform="translate(131.60 1936.00) scale(1.0000 1.0000)" font-size="67.30" font-weight="normal" fill="#231F20">70</text>
<g clip-path="url(#c3)"><text transform="translate(238.64 1084.00) scale(1.0000 1.0200)" font-size="67.30" font-weight="normal" fill="#231F20">1</text></g>
<text transform="translate(340.04 1085.00) scale(1.0000 1.0100)" font-size="67.30" font-weight="normal" fill="#231F20">5</text>
<text transform="translate(443.04 1085.00) scale(1.0000 1.0100)" font-size="67.30" font-weight="normal" fill="#231F20">9</text>
<g clip-path="url(#c4)"><text transform="translate(678.64 1084.00) scale(1.0000 1.0200)" font-size="67.30" font-weight="normal" fill="#231F20">1</text></g>
<text transform="translate(780.04 1085.00) scale(1.0000 1.0100)" font-size="67.30" font-weight="normal" fill="#231F20">5</text>
<text transform="translate(883.04 1085.00) scale(1.0000 1.0100)" font-size="67.30" font-weight="normal" fill="#231F20">9</text>
<g clip-path="url(#c5)"><text transform="translate(1118.39 1084.00) scale(1.0000 1.0200)" font-size="67.30" font-weight="normal" fill="#231F20">1</text></g>
<text transform="translate(1219.79 1085.00) scale(1.0000 1.0100)" font-size="67.30" font-weight="normal" fill="#231F20">5</text>
<text transform="translate(1322.79 1085.00) scale(1.0000 1.0100)" font-size="67.30" font-weight="normal" fill="#231F20">9</text>
<g clip-path="url(#c6)"><text transform="translate(1558.39 1084.00) scale(1.0000 1.0200)" font-size="67.30" font-weight="normal" fill="#231F20">1</text></g>
<text transform="translate(1659.79 1085.00) scale(1.0000 1.0100)" font-size="67.30" font-weight="normal" fill="#231F20">5</text>
<text transform="translate(1762.79 1085.00) scale(1.0000 1.0100)" font-size="67.30" font-weight="normal" fill="#231F20">9</text>
<g clip-path="url(#c7)"><text transform="translate(240.59 2288.00) scale(1.0000 1.0200)" font-size="67.30" font-weight="normal" fill="#231F20">1</text></g>
<text transform="translate(348.99 2289.00) scale(1.0000 1.0100)" font-size="67.30" font-weight="normal" fill="#231F20">5</text>
<text transform="translate(458.99 2289.00) scale(1.0000 1.0100)" font-size="67.30" font-weight="normal" fill="#231F20">9</text>
<g clip-path="url(#c8)"><text transform="translate(570.59 2288.00) scale(1.0000 1.0200)" font-size="67.30" font-weight="normal" fill="#231F20">1</text></g>
<text transform="translate(678.99 2289.00) scale(1.0000 1.0100)" font-size="67.30" font-weight="normal" fill="#231F20">5</text>
<text transform="translate(788.99 2289.00) scale(1.0000 1.0100)" font-size="67.30" font-weight="normal" fill="#231F20">9</text>
<g clip-path="url(#c9)"><text transform="translate(1180.59 2288.00) scale(1.0000 1.0200)" font-size="67.30" font-weight="normal" fill="#231F20">1</text></g>
<text transform="translate(1288.99 2289.00) scale(1.0000 1.0100)" font-size="67.30" font-weight="normal" fill="#231F20">5</text>
<text transform="translate(1398.99 2289.00) scale(1.0000 1.0100)" font-size="67.30" font-weight="normal" fill="#231F20">9</text>
<g clip-path="url(#c10)"><text transform="translate(1510.59 2288.00) scale(1.0000 1.0200)" font-size="67.30" font-weight="normal" fill="#231F20">1</text></g>
<text transform="translate(1618.99 2289.00) scale(1.0000 1.0100)" font-size="67.30" font-weight="normal" fill="#231F20">5</text>
<text transform="translate(1728.99 2289.00) scale(1.0000 1.0100)" font-size="67.30" font-weight="normal" fill="#231F20">9</text>
<text transform="translate(304.57 1161.00) scale(1.0000 1.0300)" font-size="66.60" font-weight="normal" fill="#000000">Block</text>
<text transform="translate(753.67 1161.00) scale(1.0000 1.0300)" font-size="66.60" font-weight="normal" fill="#000000">Block</text>
<text transform="translate(1205.97 1161.00) scale(1.0000 1.0300)" font-size="66.60" font-weight="normal" fill="#000000">Block</text>
<text transform="translate(1636.67 1161.00) scale(1.0000 1.0300)" font-size="66.60" font-weight="normal" fill="#000000">Block</text>
<text transform="translate(458.17 2363.50) scale(1.0000 1.0300)" font-size="66.60" font-weight="normal" fill="#000000">Block</text>
<text transform="translate(1397.67 2363.50) scale(1.0000 1.0300)" font-size="66.60" font-weight="normal" fill="#000000">Block</text>
<text transform="translate(79.60 758.13) rotate(-90) scale(1 1.0500)" font-size="66.60" fill="#231F20">Reward Rate</text>
<text transform="translate(79.70 1960.33) rotate(-90) scale(1 1.0500)" font-size="66.60" fill="#231F20">Reward Rate</text>
</svg>
</body>
</html>
